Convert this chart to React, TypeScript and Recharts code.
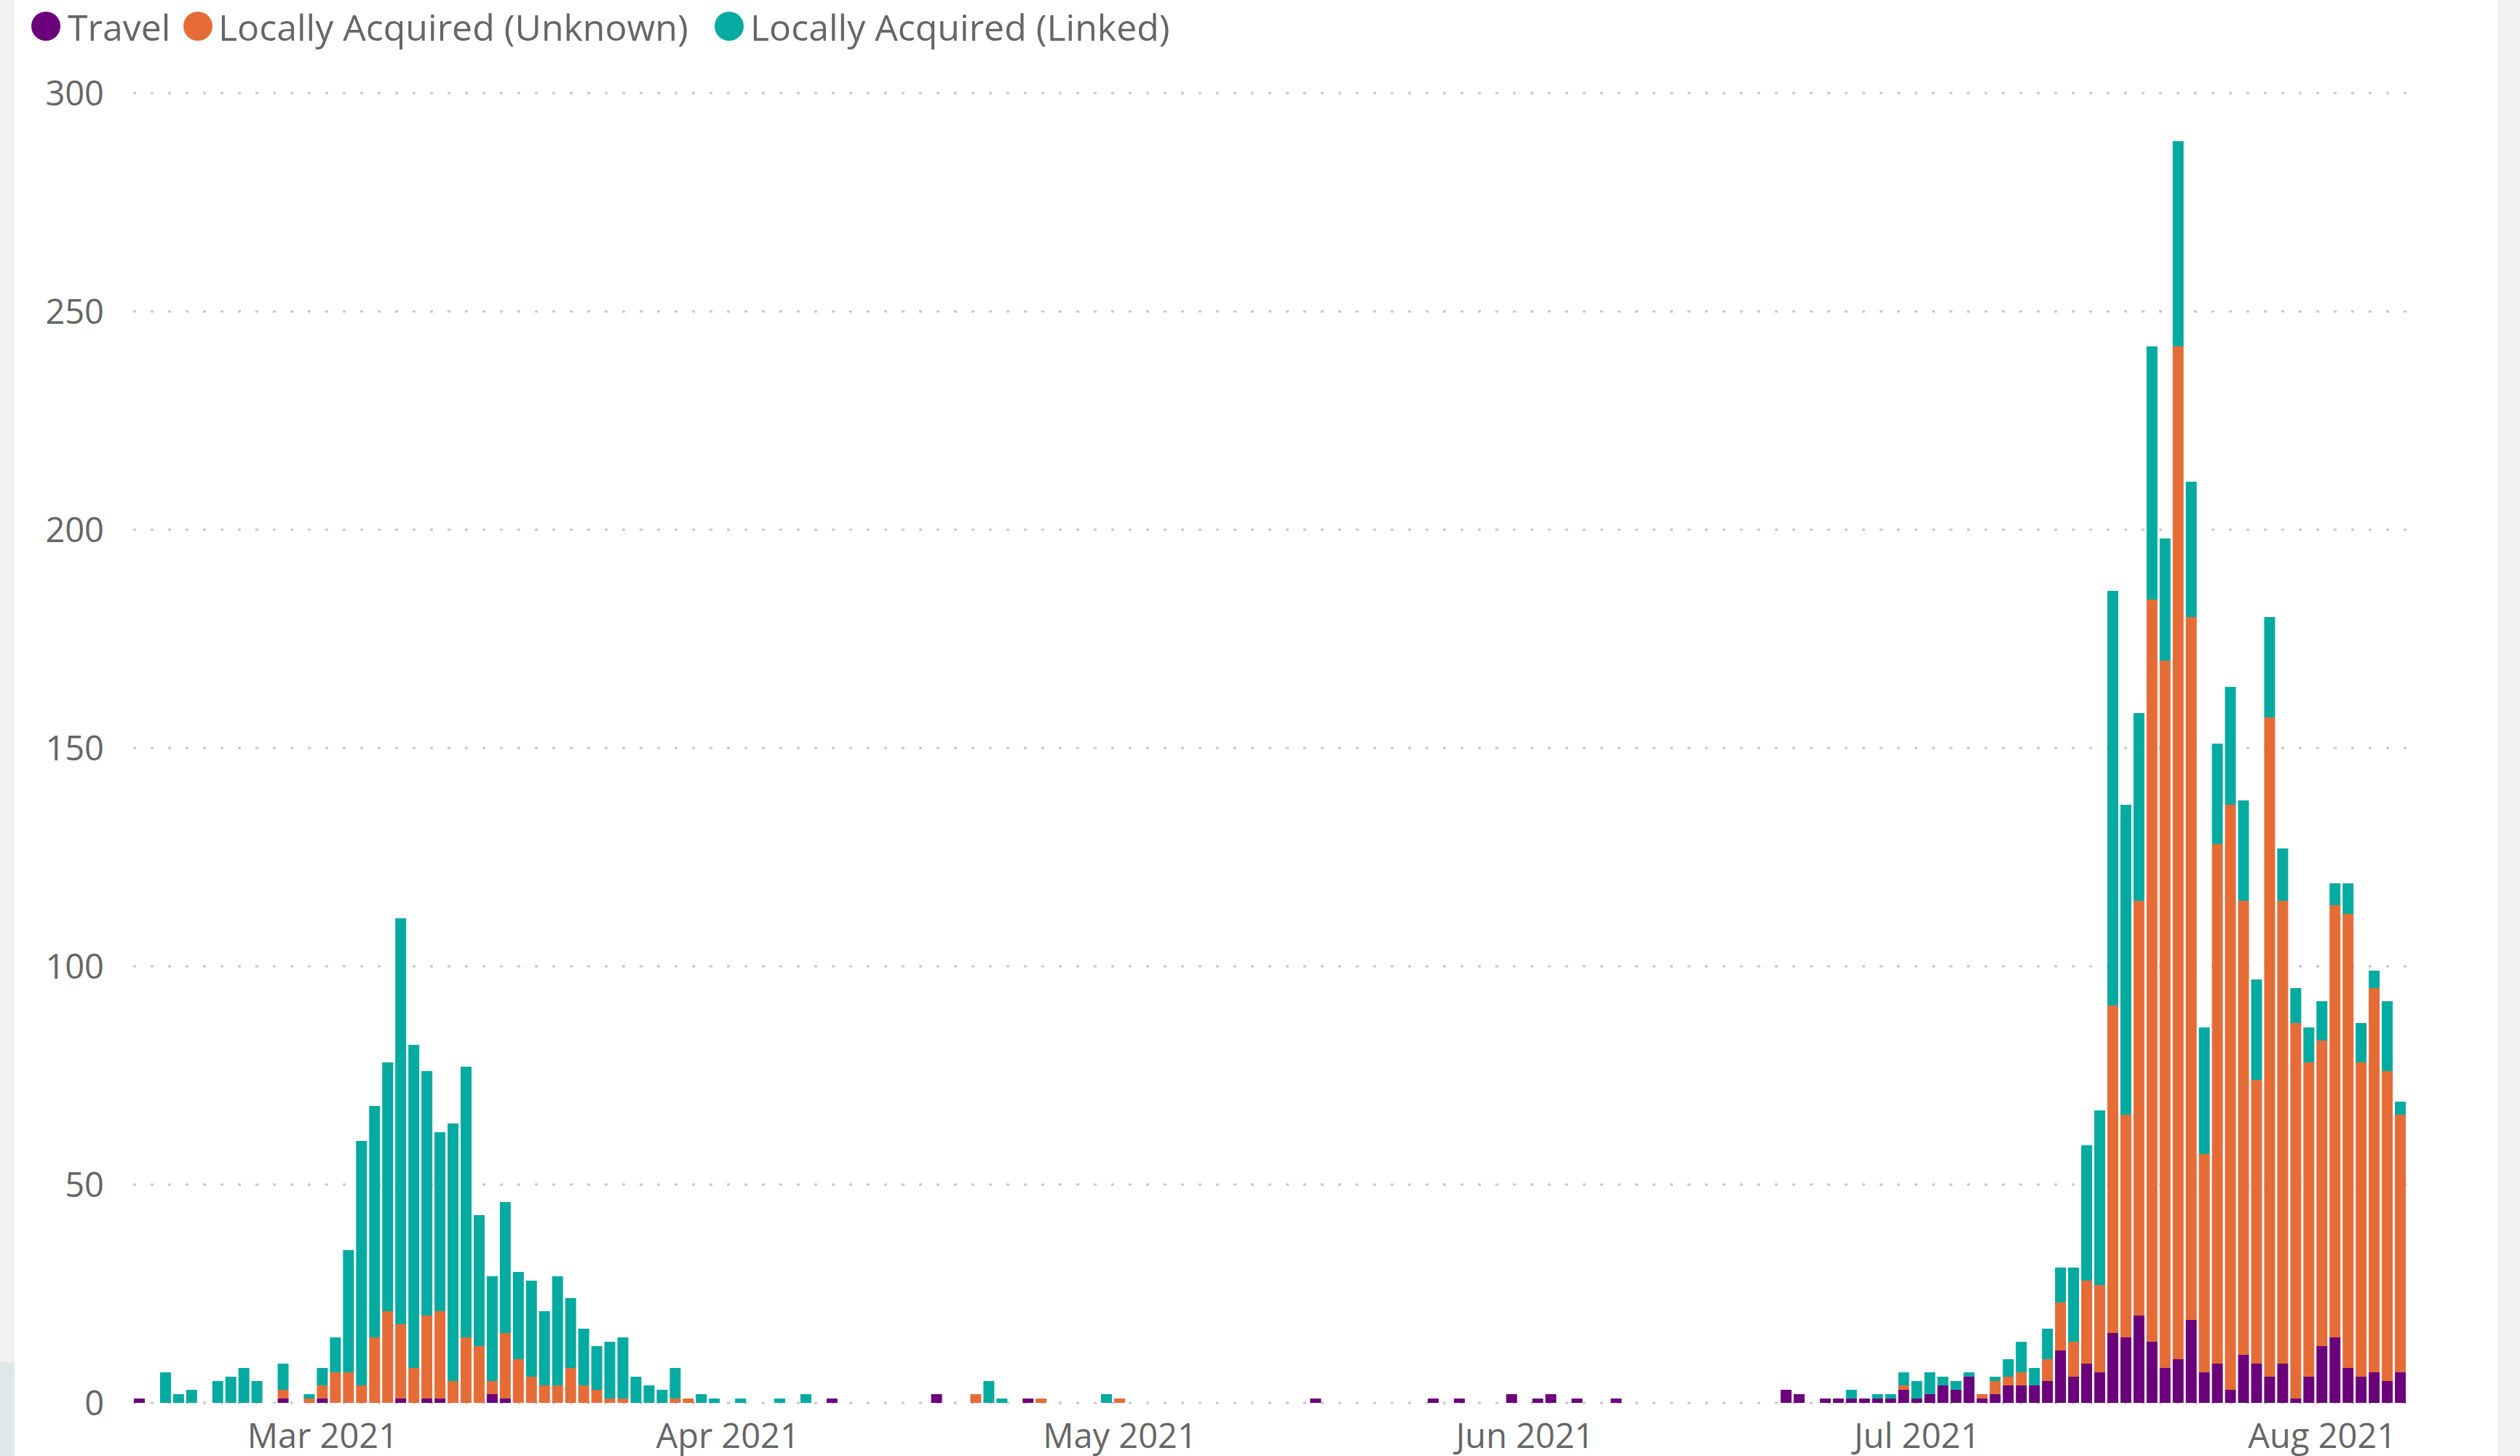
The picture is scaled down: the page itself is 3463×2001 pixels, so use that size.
import { BarChart, Bar, XAxis, YAxis, CartesianGrid } from "recharts";

// one bar per day, starting 15 Feb 2021
const START_DATE = Date.UTC(2021, 1, 15);
const DAY_COUNT = 174;

const travel = [
  1, 0, 0, 0, 0, 0, 0, 0, 0, 0,
  0, 1, 0, 0, 1, 0, 0, 0, 0, 0,
  1, 0, 1, 1, 0, 0, 0, 2, 1, 0,
  0, 0, 0, 0, 0, 0, 0, 0, 0, 0,
  0, 0, 0, 0, 0, 0, 0, 0, 0, 0,
  0, 0, 0, 1, 0, 0, 0, 0, 0, 0,
  0, 2, 0, 0, 0, 0, 0, 0, 1, 0,
  0, 0, 0, 0, 0, 0, 0, 0, 0, 0,
  0, 0, 0, 0, 0, 0, 0, 0, 0, 0,
  1, 0, 0, 0, 0, 0, 0, 0, 0, 1,
  0, 1, 0, 0, 0, 2, 0, 1, 2, 0,
  1, 0, 0, 1, 0, 0, 0, 0, 0, 0,
  0, 0, 0, 0, 0, 0, 3, 2, 0, 1,
  1, 1, 1, 1, 1, 3, 1, 2, 4, 3,
  6, 1, 2, 4, 4, 4, 5, 12, 6, 9,
  7, 16, 15, 20, 14, 8, 10, 19, 7, 9,
  3, 11, 9, 6, 9, 1, 6, 13, 15, 8,
  6, 7, 5, 7,
];

const unknown = [
  0, 0, 0, 0, 0, 0, 0, 0, 0, 0,
  0, 2, 0, 1, 3, 7, 7, 4, 15, 21,
  17, 8, 19, 20, 5, 15, 13, 3, 15, 10,
  6, 4, 4, 8, 4, 3, 1, 1, 0, 0,
  0, 1, 1, 0, 0, 0, 0, 0, 0, 0,
  0, 0, 0, 0, 0, 0, 0, 0, 0, 0,
  0, 0, 0, 0, 2, 0, 0, 0, 0, 1,
  0, 0, 0, 0, 0, 1, 0, 0, 0, 0,
  0, 0, 0, 0, 0, 0, 0, 0, 0, 0,
  0, 0, 0, 0, 0, 0, 0, 0, 0, 0,
  0, 0, 0, 0, 0, 0, 0, 0, 0, 0,
  0, 0, 0, 0, 0, 0, 0, 0, 0, 0,
  0, 0, 0, 0, 0, 0, 0, 0, 0, 0,
  0, 0, 0, 0, 0, 1, 0, 0, 0, 0,
  0, 1, 3, 2, 3, 0, 5, 11, 8, 19,
  20, 75, 51, 95, 170, 162, 232, 161, 50, 119,
  134, 104, 65, 151, 106, 86, 72, 70, 99, 104,
  72, 88, 71, 59,
];

const linked = [
  0, 0, 7, 2, 3, 0, 5, 6, 8, 5,
  0, 6, 0, 1, 4, 8, 28, 56, 53, 57,
  93, 74, 56, 41, 59, 62, 30, 24, 30, 20,
  22, 17, 25, 16, 13, 10, 13, 14, 6, 4,
  3, 7, 0, 2, 1, 0, 1, 0, 0, 1,
  0, 2, 0, 0, 0, 0, 0, 0, 0, 0,
  0, 0, 0, 0, 0, 5, 1, 0, 0, 0,
  0, 0, 0, 0, 2, 0, 0, 0, 0, 0,
  0, 0, 0, 0, 0, 0, 0, 0, 0, 0,
  0, 0, 0, 0, 0, 0, 0, 0, 0, 0,
  0, 0, 0, 0, 0, 0, 0, 0, 0, 0,
  0, 0, 0, 0, 0, 0, 0, 0, 0, 0,
  0, 0, 0, 0, 0, 0, 0, 0, 0, 0,
  0, 2, 0, 1, 1, 3, 4, 5, 2, 2,
  1, 0, 1, 4, 7, 4, 7, 8, 17, 31,
  40, 95, 71, 43, 58, 28, 47, 31, 29, 23,
  27, 23, 23, 23, 12, 8, 8, 9, 5, 7,
  9, 4, 16, 3,
];

const monthTicks = [
  "2021-03-01",
  "2021-04-01",
  "2021-05-01",
  "2021-06-01",
  "2021-07-01",
  "2021-08-01",
];
const monthLabels = ["Mar 2021", "Apr 2021", "May 2021", "Jun 2021", "Jul 2021", "Aug 2021"];
const yTicks = [0, 50, 100, 150, 200, 250, 300];

const SERIES = [
  { key: "travel", name: "Travel", color: "#6B007B" },
  { key: "unknown", name: "Locally Acquired (Unknown)", color: "#E66C37" },
  { key: "linked", name: "Locally Acquired (Linked)", color: "#05ABA0" },
];

// legend item x positions (circle, text)
const LEGEND_POS = [
  [43, 93],
  [252, 300],
  [982, 1031],
];

const FONT = "'Segoe UI', 'Open Sans', sans-serif";
const TEXT_COLOR = "#666666";

const dates = Array.from({ length: DAY_COUNT }, (_, i) =>
  new Date(START_DATE + i * 86400000).toISOString().slice(0, 10)
);

const data = dates.map((date, i) => ({
  date,
  travel: travel[i],
  unknown: unknown[i],
  linked: linked[i],
}));

function formatMonth(value: string) {
  const idx = monthTicks.indexOf(value);
  return idx >= 0 ? monthLabels[idx] : "";
}

function ChartLegend() {
  return (
    <div style={{ position: "absolute", left: 0, top: 0, height: 73, width: 1700 }}>
      {SERIES.map((s, i) => (
        <div key={s.key}>
          <div
            style={{
              position: "absolute",
              left: LEGEND_POS[i][0],
              top: 16,
              width: 40,
              height: 40,
              borderRadius: "50%",
              background: s.color,
            }}
          />
          <div
            style={{
              position: "absolute",
              left: LEGEND_POS[i][1],
              top: 0,
              height: 73,
              display: "flex",
              alignItems: "center",
              fontFamily: FONT,
              fontSize: 50,
              color: TEXT_COLOR,
              whiteSpace: "nowrap",
            }}
          >
            {s.name}
          </div>
        </div>
      ))}
    </div>
  );
}

export default function App() {
  const tickStyle = { fill: TEXT_COLOR, fontSize: 47, fontFamily: FONT };
  return (
    <div
      style={{
        position: "absolute",
        left: 0,
        top: 0,
        width: 3463,
        height: 2001,
        background: "#F3F2F1",
        overflow: "hidden",
      }}
    >
      <div style={{ position: "absolute", left: 0, top: 1872, width: 20, height: 129, background: "#DBEAE8" }} />
      <div style={{ position: "absolute", left: 20, top: 0, width: 3412, height: 2001, background: "#FFFFFF" }} />
      <div style={{ position: "absolute", left: 0, top: 0 }}>
        <BarChart
          width={3463}
          height={2001}
          data={data}
          margin={{ top: 128, right: 155, bottom: 0, left: 0 }}
          barSize={15}
        >
          <CartesianGrid vertical={false} stroke="#C8C8C8" strokeWidth={3} strokeDasharray="4 20" />
          <XAxis
            dataKey="date"
            ticks={monthTicks}
            interval={0}
            tickFormatter={formatMonth}
            axisLine={false}
            tickLine={false}
            tickSize={0}
            tickMargin={29}
            height={73}
            tick={tickStyle}
          />
          <YAxis
            domain={[0, 300]}
            ticks={yTicks}
            width={183}
            axisLine={false}
            tickLine={false}
            tickSize={0}
            tickMargin={40}
            tick={tickStyle}
          />
          {SERIES.map((s) => (
            <Bar
              key={s.key}
              dataKey={s.key}
              name={s.name}
              stackId="cases"
              fill={s.color}
              isAnimationActive={false}
            />
          ))}
        </BarChart>
      </div>
      <ChartLegend />
    </div>
  );
}
